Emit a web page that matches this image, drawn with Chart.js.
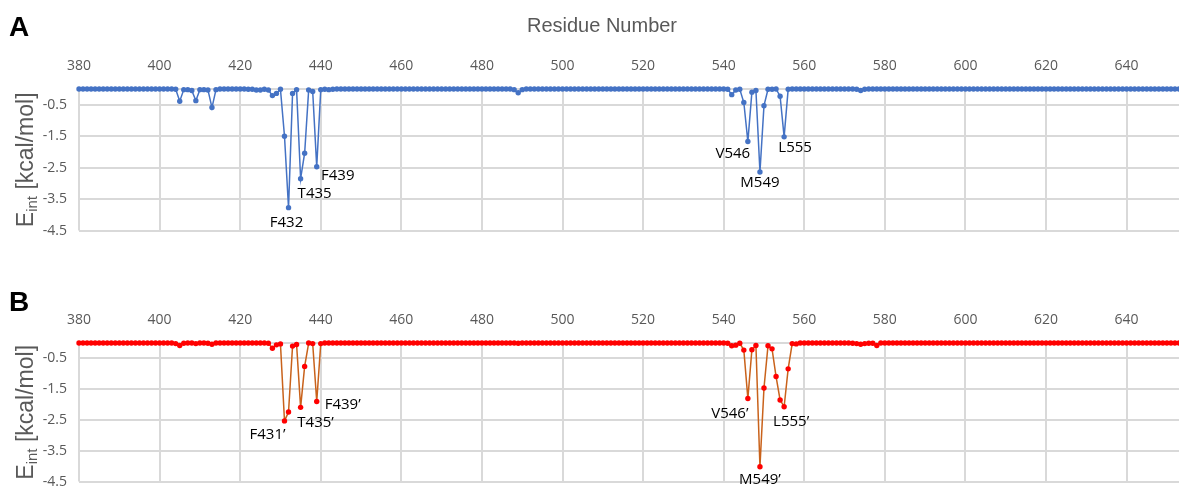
<!DOCTYPE html>
<html>
<head>
<meta charset="utf-8">
<script src="https://cdn.jsdelivr.net/npm/chart.js@4.4.1/dist/chart.umd.min.js"></script>
<style>
  html, body { margin: 0; padding: 0; background: #fff; }
  #wrap { position: relative; width: 1179px; height: 502px; overflow: hidden; }
  canvas { position: absolute; left: 0; }
  #chartA { top: 0; }
  #chartB { top: 254px; }
</style>
</head>
<body>
<div id="wrap">
  <canvas id="chartA" width="1179" height="251"></canvas>
  <canvas id="chartB" width="1179" height="248"></canvas>
</div>
<script>
// residue numbering of the first value in each series
const firstResidue = 380;
const xTicks = [380, 400, 420, 440, 460, 480, 500, 520, 540, 560, 580, 600, 620, 640];
const yTicks = [-0.5, -1.5, -2.5, -3.5, -4.5];

// interaction energy per residue, kcal/mol (residues 380..653)
const energyA = [
  // 380-399
  0, 0, 0, 0, 0, 0, 0, 0, 0, 0, 0, 0, 0, 0, 0, 0, 0, 0, 0, 0,
  // 400-419
  0, 0, 0, 0, -0.01, -0.39, -0.02, -0.02, -0.05, -0.37, -0.02, -0.02, -0.03, -0.59, -0.02, 0, 0, 0, 0, 0,
  // 420-439
  0, 0, -0.01, -0.01, -0.03, -0.03, -0.01, -0.03, -0.21, -0.14, -0.01, -1.5, -3.77, -0.14, -0.02, -2.85, -2.04, -0.03, -0.08, -2.47,
  // 440-459
  -0.02, -0.01, -0.02, -0.01, 0, 0, 0, 0, 0, 0, 0, 0, 0, 0, 0, 0, 0, 0, 0, 0,
  // 460-479
  0, 0, 0, 0, 0, 0, 0, 0, 0, 0, 0, 0, 0, 0, 0, 0, 0, 0, 0, 0,
  // 480-499
  0, 0, 0, 0, 0, 0, 0, 0, -0.02, -0.12, -0.02, 0, 0, 0, 0, 0, 0, 0, 0, 0,
  // 500-519
  0, 0, 0, 0, 0, 0, 0, 0, 0, 0, 0, 0, 0, 0, 0, 0, 0, 0, 0, 0,
  // 520-539
  0, 0, 0, 0, 0, 0, 0, 0, 0, 0, 0, 0, 0, 0, 0, 0, 0, 0, 0, 0,
  // 540-559
  0, -0.01, -0.18, -0.03, -0.01, -0.43, -1.67, -0.1, -0.05, -2.64, -0.53, -0.01, -0.01, 0, -0.23, -1.52, -0.01, 0, 0, 0,
  // 560-579
  0, 0, 0, 0, 0, 0, 0, 0, 0, 0, 0, 0, 0, -0.01, -0.05, -0.01, 0, 0, 0, 0,
  // 580-599
  0, 0, 0, 0, 0, 0, 0, 0, 0, 0, 0, 0, 0, 0, 0, 0, 0, 0, 0, 0,
  // 600-619
  0, 0, 0, 0, 0, 0, 0, 0, 0, 0, 0, 0, 0, 0, 0, 0, 0, 0, 0, 0,
  // 620-639
  0, 0, 0, 0, 0, 0, 0, 0, 0, 0, 0, 0, 0, 0, 0, 0, 0, 0, 0, 0,
  // 640-653
  0, 0, 0, 0, 0, 0, 0, 0, 0, 0, 0, 0, 0, 0
];

const energyB = [
  // 380-399
  0, 0, 0, 0, 0, 0, 0, 0, 0, 0, 0, 0, 0, 0, 0, 0, 0, 0, 0, 0,
  // 400-419
  0, 0, 0, 0, -0.02, -0.08, -0.01, 0, 0, -0.02, 0, 0, -0.01, -0.04, 0, 0, 0, 0, 0, 0,
  // 420-439
  0, 0, 0, 0, 0, 0, 0, -0.01, -0.17, -0.06, -0.03, -2.53, -2.24, -0.1, -0.05, -2.09, -0.76, 0, -0.02, -1.9,
  // 440-459
  -0.02, 0, 0, 0, 0, 0, 0, 0, 0, 0, 0, 0, 0, 0, 0, 0, 0, 0, 0, 0,
  // 460-479
  0, 0, 0, 0, 0, 0, 0, 0, 0, 0, 0, 0, 0, 0, 0, 0, 0, 0, 0, 0,
  // 480-499
  0, 0, 0, 0, 0, 0, 0, 0, 0, -0.01, 0, 0, 0, 0, 0, 0, 0, 0, 0, 0,
  // 500-519
  0, 0, 0, 0, 0, 0, 0, 0, 0, 0, 0, 0, 0, 0, 0, 0, 0, 0, 0, 0,
  // 520-539
  0, 0, 0, 0, 0, 0, 0, 0, 0, 0, 0, 0, 0, 0, 0, 0, 0, 0, 0, 0,
  // 540-559
  0, -0.01, -0.09, -0.07, -0.01, -0.23, -1.8, -0.22, -0.08, -4.02, -1.46, -0.09, -0.19, -1.09, -1.85, -2.07, -0.84, -0.02, -0.03, 0,
  // 560-579
  0, 0, 0, 0, 0, 0, 0, 0, 0, 0, 0, 0, -0.01, -0.02, -0.04, -0.02, -0.01, -0.01, -0.08, 0,
  // 580-599
  0, 0, 0, 0, 0, 0, 0, 0, 0, 0, 0, 0, 0, 0, 0, 0, 0, 0, 0, 0,
  // 600-619
  0, 0, 0, 0, 0, 0, 0, 0, 0, 0, 0, 0, 0, 0, 0, 0, 0, 0, 0, 0,
  // 620-639
  0, 0, 0, 0, 0, 0, 0, 0, 0, 0, 0, 0, 0, 0, 0, 0, 0, 0, 0, 0,
  // 640-653
  0, 0, 0, 0, 0, 0, 0, 0, 0, 0, 0, 0, 0, 0
];

// labelled hot-spot residues
const hotspotsA = [432, 435, 439, 546, 549, 555];
const hotspotNamesA = ['F432', 'T435', 'F439', 'V546', 'M549', 'L555'];
const hotspotsB = [431, 435, 439, 546, 549, 555];
const hotspotNamesB = ['F431\u2019', 'T435\u2019', 'F439\u2019', 'V546\u2019', 'M549\u2019', 'L555\u2019'];

// where each label sits relative to its point
const labelOffsetsA = [[-2, 15], [14, 15], [21, 9], [-15, 12], [0, 11], [11, 11]];
const labelOffsetsB = [[-17, 14], [15, 15], [26, 3], [-18, 15], [0, 13], [7, 15]];

const GRID = '#d9d9d9';
const TEXT = '#595959';

function toPoints(values) {
  return values.map((v, i) => ({ x: firstResidue + i, y: v }));
}

function panelPlugin(cfg) {
  return {
    id: 'panelText',
    afterDatasetsDraw(chart) {
      const ctx = chart.ctx;
      const area = chart.chartArea;
      const xs = chart.scales.x, ys = chart.scales.y;
      ctx.save();

      // panel letter
      ctx.fillStyle = '#000';
      ctx.font = 'bold 28px "Liberation Sans", Arial, sans-serif';
      ctx.textAlign = 'left';
      ctx.textBaseline = 'alphabetic';
      ctx.fillText(cfg.letter, 9, cfg.letterY);

      // axis title on top
      if (cfg.title) {
        ctx.fillStyle = TEXT;
        ctx.font = '20px "Liberation Sans", Arial, sans-serif';
        ctx.textAlign = 'center';
        ctx.fillText(cfg.title, 602, 32);
      }

      // rotated y title: E_int [kcal/mol]
      const big = '23px "Liberation Sans", Arial, sans-serif';
      const small = '15px "Liberation Sans", Arial, sans-serif';
      ctx.font = big;
      const wE = ctx.measureText('E').width;
      const wRest = ctx.measureText(' [kcal/mol]').width;
      ctx.font = small;
      const wSub = ctx.measureText('int').width;
      const total = wE + wSub + wRest;
      ctx.translate(17, (area.top + area.bottom) / 2);
      ctx.rotate(-Math.PI / 2);
      ctx.fillStyle = TEXT;
      ctx.textAlign = 'left';
      let x0 = -total / 2;
      ctx.font = big;
      ctx.fillText('E', x0, 16);
      ctx.font = small;
      ctx.fillText('int', x0 + wE, 20);
      ctx.font = big;
      ctx.fillText(' [kcal/mol]', x0 + wE + wSub, 16);
      ctx.setTransform(1, 0, 0, 1, 0, 0);

      // hot-spot labels
      const values = chart.data.datasets[0].data;
      ctx.fillStyle = '#000';
      ctx.font = '15px "Open Sans", sans-serif';
      ctx.textAlign = 'center';
      ctx.textBaseline = 'middle';
      cfg.residues.forEach((res, i) => {
        const pt = values[res - firstResidue];
        const px = xs.getPixelForValue(pt.x);
        const py = ys.getPixelForValue(pt.y);
        ctx.fillText(cfg.names[i], px + cfg.offsets[i][0], py + cfg.offsets[i][1]);
      });
      ctx.restore();
    }
  };
}

function buildPanel(id, values, lineColor, pointColor, bottomPad, cfg) {
  const ctx = document.getElementById(id).getContext('2d');
  return new Chart(ctx, {
    type: 'line',
    data: {
      datasets: [{
        data: toPoints(values),
        borderColor: lineColor,
        borderWidth: 1.5,
        pointRadius: 2.7,
        pointBorderWidth: 0,
        pointBackgroundColor: pointColor,
        tension: 0,
        clip: false,
      }],
    },
    options: {
      responsive: false,
      animation: false,
      events: [],
      layout: { autoPadding: false, padding: { left: 0, right: 0, top: 0, bottom: bottomPad } },
      plugins: { legend: { display: false }, tooltip: { enabled: false } },
      scales: {
        x: {
          type: 'linear',
          position: 'top',
          min: 380,
          max: 653,
          afterFit(scale) { scale.height = 89; },
          afterBuildTicks(scale) { scale.ticks = xTicks.map(v => ({ value: v })); },
          grid: { color: GRID, lineWidth: 2, drawTicks: false },
          border: { display: true, color: GRID, width: 2 },
          ticks: {
            color: TEXT,
            padding: 15,
            maxRotation: 0,
            autoSkip: false,
            font: { family: '"Open Sans", sans-serif', size: 14 },
          },
        },
        y: {
          min: -4.5,
          max: 0,
          afterFit(scale) { scale.width = 79; },
          afterBuildTicks(scale) { scale.ticks = yTicks.map(v => ({ value: v })); },
          grid: { color: GRID, lineWidth: 2, drawTicks: false },
          border: { display: false },
          ticks: {
            color: TEXT,
            padding: 12,
            font: { family: '"Open Sans", sans-serif', size: 14 },
            callback: v => v.toFixed(1),
          },
        },
      },
    },
    plugins: [panelPlugin(cfg)],
  });
}

buildPanel('chartA', energyA, '#4472C4', '#4472C4', 11, {
  letter: 'A', letterY: 36, title: 'Residue Number',
  residues: hotspotsA, names: hotspotNamesA, offsets: labelOffsetsA,
});

buildPanel('chartB', energyB, '#C9621B', '#FF0000', 6, {
  letter: 'B', letterY: 57, title: null,
  residues: hotspotsB, names: hotspotNamesB, offsets: labelOffsetsB,
});
</script>
</body>
</html>
